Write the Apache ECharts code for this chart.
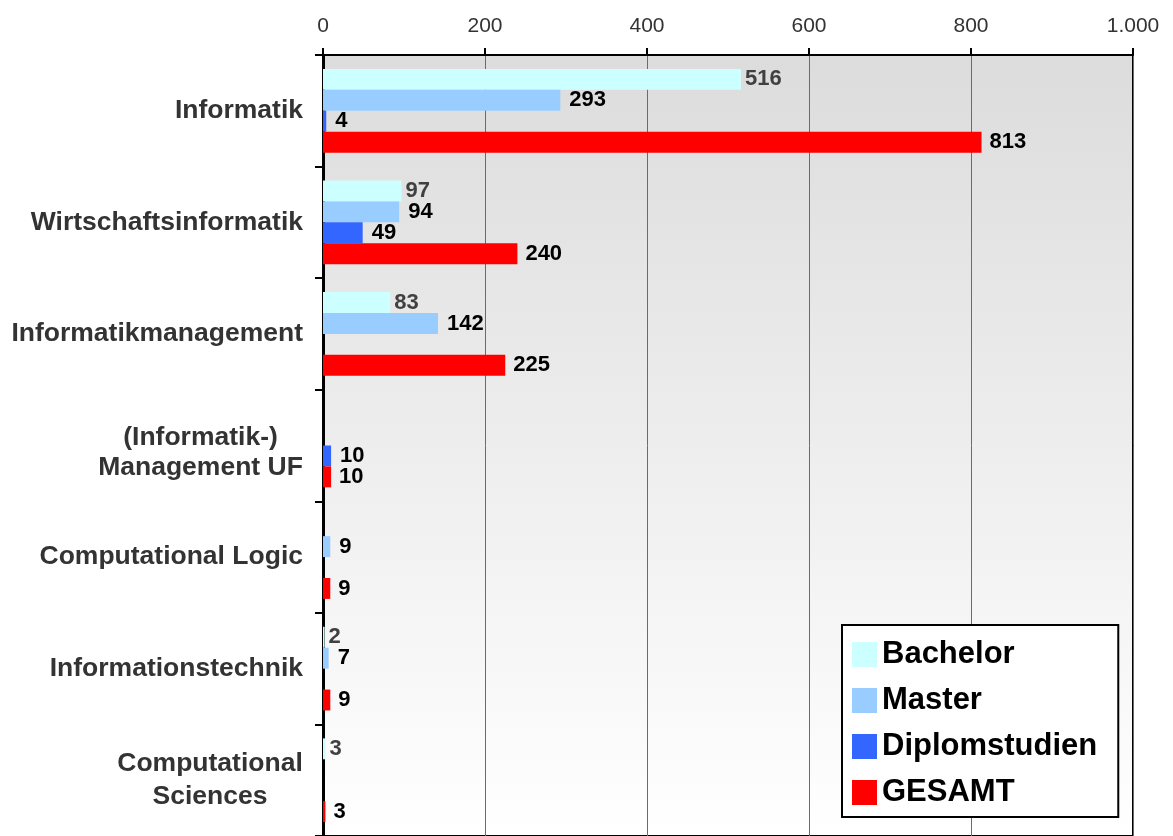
<!DOCTYPE html>
<html>
<head>
<meta charset="utf-8">
<script src="https://cdn.jsdelivr.net/npm/echarts@6/dist/echarts.min.js"></script>
<style>
html,body{margin:0;padding:0;background:#fff;}
#chart{width:1173px;height:836px;}
</style>
</head>
<body>
<div id="chart"></div>
<script>
const categories = [
  "Informatik",
  "Wirtschaftsinformatik",
  "Informatikmanagement",
  "(Informatik-)\nManagement UF",
  "Computational Logic",
  "Informationstechnik",
  "Computational\nSciences"
];
const seriesNames = ["Bachelor", "Master", "Diplomstudien", "GESAMT"];
const bachelor = [516, 97, 83, null, null, 2, 3];
const master   = [293, 94, 142, null, 9, 7, null];
const diplom   = [4, 49, null, 10, null, null, null];
const gesamt   = [813, 240, 225, 10, 9, 9, 3];
const xTicks = [0, 200, 400, 600, 800, 1000];

const FONT = "'Liberation Sans', Arial, Helvetica, sans-serif";
const colors = ["#ccffff", "#99ccff", "#3366ff", "#ff0000"];
const labelColors = ["#404040", "#000000", "#000000", "#000000"];
const labelDist = [4, 9, 9, 8];
const values = [bachelor, master, diplom, gesamt];

function fmtNum(v) {
  return String(v).replace(/\B(?=(\d{3})+(?!\d))/g, ".");
}

const chart = echarts.init(document.getElementById('chart'), null, {renderer: 'canvas'});

const series = seriesNames.map((name, i) => ({
  name: name,
  type: 'bar',
  data: values[i],
  barGap: '0%',
  barCategoryGap: '25%',
  itemStyle: {color: colors[i]},
  label: {
    show: true,
    position: 'right',
    distance: labelDist[i],
    color: labelColors[i],
    fontFamily: FONT,
    fontWeight: 'bold',
    fontSize: 22
  }
}));

const catFont = {fontFamily: FONT, fontWeight: 'bold', fontSize: 26.5, color: '#333'};

chart.setOption({
  animation: false,
  backgroundColor: '#ffffff',
  grid: {
    left: 323,
    right: 40,
    top: 55,
    height: 784,
    show: true,
    borderColor: '#000',
    borderWidth: 2,
    backgroundColor: {
      type: 'linear', x: 0, y: 0, x2: 0, y2: 1,
      colorStops: [
        {offset: 0, color: '#dcdcdc'},
        {offset: 1, color: '#ffffff'}
      ]
    }
  },
  legend: {
    orient: 'vertical',
    left: 842,
    top: 625,
    itemWidth: 25,
    itemHeight: 25,
    itemGap: 15,
    icon: 'rect',
    padding: [14, 21, 9, 10],
    backgroundColor: '#ffffff',
    borderColor: '#000000',
    borderWidth: 2,
    textStyle: {
      fontFamily: FONT,
      fontWeight: 'bold',
      fontSize: 31,
      color: '#000'
    },
    data: seriesNames
  },
  xAxis: {
    type: 'value',
    position: 'top',
    min: xTicks[0],
    max: xTicks[xTicks.length - 1],
    interval: 200,
    axisLine: {show: true, lineStyle: {color: '#000', width: 2}},
    axisTick: {show: true, length: 7, lineStyle: {color: '#000', width: 2}},
    axisLabel: {
      margin: 18,
      color: '#333',
      fontFamily: FONT,
      fontSize: 21,
      formatter: v => fmtNum(v)
    },
    splitLine: {show: true, lineStyle: {color: '#6060c0', width: 1}}
  },
  yAxis: {
    type: 'category',
    inverse: true,
    data: categories,
    axisLine: {show: true, lineStyle: {color: '#000', width: 3}},
    axisTick: {show: true, length: 8, lineStyle: {color: '#000', width: 2}},
    axisLabel: Object.assign({
      margin: 20,
      lineHeight: 30,
      formatter: function (v) {
        if (v.indexOf('\n') < 0) return v;
        const lines = v.split('\n');
        if (v.indexOf('Management') >= 0) {
          return '{sp|}\n{a|' + lines[0] + '}\n{a|' + lines[1] + '}';
        }
        return lines.map(l => '{b|' + l + '}').join('\n');
      },
      rich: {
        sp: {lineHeight: 14, height: 14, fontSize: 10},
        a: Object.assign({width: 205, align: 'center', lineHeight: 30}, catFont),
        b: Object.assign({width: 186, align: 'center', lineHeight: 33}, catFont)
      }
    }, catFont)
  },
  series: series
});
</script>
</body>
</html>
